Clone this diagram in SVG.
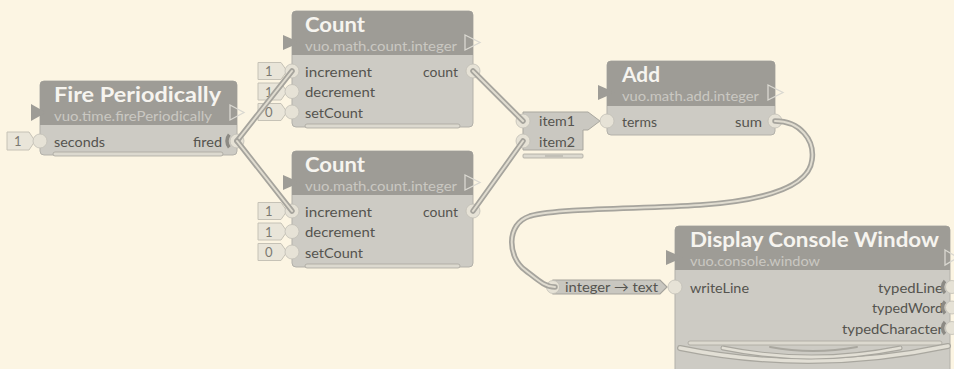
<svg xmlns="http://www.w3.org/2000/svg" width="954" height="369" viewBox="0 0 954 369">
<style>
.hdr{fill:#9e9c96}
.body{fill:#cdcbc4;stroke:#b3b1aa;stroke-width:1}
.title{font-family:"Lato","Noto Sans",sans-serif;font-weight:bold;font-size:20px;fill:#f6f4ef}
.sub{font-family:"Lato","Noto Sans",sans-serif;font-size:14px;fill:#cac8c2}
.lbl{font-family:"Lato","Noto Sans",sans-serif;font-size:14px;fill:#55544f}
.ctext{font-family:"Lato","Noto Sans",sans-serif;font-size:13px;fill:#7b7972}
.port{fill:#e6e2d6;stroke:#c2bfb6;stroke-width:0.8}
.const{fill:#e9e5d9;stroke:#c6c2b6;stroke-width:1}
.tin{fill:#9e9c96}
.tout{fill:none;stroke:#dad8d1;stroke-width:1.3}
.bar{fill:#dcd9cf;stroke:#a9a79f;stroke-width:0.8}
.trig{fill:none;stroke:#8c8a84;stroke-width:3.5}
.cab-o{fill:none;stroke:#a6a49d;stroke-width:5.5;stroke-linecap:round}
.cab-i{fill:none;stroke:#e0dcd0;stroke-width:2;stroke-linecap:round}
</style>
<rect width="954" height="369" fill="#fcf5e3"/>

<g id="firePeriodically">
<rect class="body" x="40" y="81" width="197" height="74" rx="4"/>
<path class="hdr" d="M40,125V85Q40,81 44,81H233Q237,81 237,85V125Z"/>
<polygon class="tin" points="31,104 46,112.5 31,121"/>
<polygon class="tout" points="230,105 244,112.5 230,120"/>
<text class="title" x="54" y="101.5" textLength="167" lengthAdjust="spacingAndGlyphs">Fire Periodically</text>
<text class="sub" x="54" y="120.5" textLength="158" lengthAdjust="spacingAndGlyphs">vuo.time.firePeriodically</text>
<rect class="bar" x="53" y="152" width="170" height="4" rx="2"/>
<path class="const" d="M7,132H29L35,141L29,150H7Z"/>
<text class="ctext" x="14" y="146">1</text>
<circle class="port" cx="40" cy="141" r="7"/>
<text class="lbl" x="54" y="146.5" textLength="51" lengthAdjust="spacingAndGlyphs">seconds</text>
<text class="lbl" x="193" y="146.5" textLength="29" lengthAdjust="spacingAndGlyphs">fired</text>
<circle class="port" cx="237" cy="141" r="7"/>
<path class="trig" d="M229.3,134.6A10,10 0 0 0 229.3,147.4"/>
</g>

<g id="count1">
<rect class="body" x="292" y="11" width="181" height="116" rx="4"/>
<path class="hdr" d="M292,55V15Q292,11 296,11H469Q473,11 473,15V55Z"/>
<polygon class="tin" points="283,35 300,42.5 283,50"/>
<polygon class="tout" points="465,35 480,42.5 465,50"/>
<text class="title" x="305" y="31.5" textLength="60" lengthAdjust="spacingAndGlyphs">Count</text>
<text class="sub" x="305" y="50.5" textLength="152" lengthAdjust="spacingAndGlyphs">vuo.math.count.integer</text>
<rect class="bar" x="305" y="124" width="155" height="4" rx="2"/>
<path class="const" d="M258,62.5H281L287,71L281,79.5H258Z"/>
<path class="const" d="M258,83H281L287,91.5L281,100H258Z"/>
<path class="const" d="M258,103.5H281L287,112L281,120.5H258Z"/>
<text class="ctext" x="265" y="76">1</text>
<text class="ctext" x="265" y="96.5">1</text>
<text class="ctext" x="265" y="117">0</text>
<circle class="port" cx="292" cy="71" r="7"/>
<circle class="port" cx="292" cy="91.5" r="7"/>
<circle class="port" cx="292" cy="112" r="7"/>
<text class="lbl" x="305" y="76.5" textLength="67" lengthAdjust="spacingAndGlyphs">increment</text>
<text class="lbl" x="305" y="97" textLength="70" lengthAdjust="spacingAndGlyphs">decrement</text>
<text class="lbl" x="305" y="117.5" textLength="58" lengthAdjust="spacingAndGlyphs">setCount</text>
<text class="lbl" x="423" y="76.5" textLength="35" lengthAdjust="spacingAndGlyphs">count</text>
<circle class="port" cx="473" cy="71" r="7"/>
</g>

<g id="count2">
<rect class="body" x="292" y="151" width="181" height="116" rx="4"/>
<path class="hdr" d="M292,195V155Q292,151 296,151H469Q473,151 473,155V195Z"/>
<polygon class="tin" points="283,175 300,182.5 283,190"/>
<polygon class="tout" points="465,175 480,182.5 465,190"/>
<text class="title" x="305" y="171.5" textLength="60" lengthAdjust="spacingAndGlyphs">Count</text>
<text class="sub" x="305" y="190.5" textLength="152" lengthAdjust="spacingAndGlyphs">vuo.math.count.integer</text>
<rect class="bar" x="305" y="264" width="155" height="4" rx="2"/>
<path class="const" d="M258,202.5H281L287,211L281,219.5H258Z"/>
<path class="const" d="M258,223H281L287,231.5L281,240H258Z"/>
<path class="const" d="M258,243.5H281L287,252L281,260.5H258Z"/>
<text class="ctext" x="265" y="216">1</text>
<text class="ctext" x="265" y="236.5">1</text>
<text class="ctext" x="265" y="257">0</text>
<circle class="port" cx="292" cy="211" r="7"/>
<circle class="port" cx="292" cy="231.5" r="7"/>
<circle class="port" cx="292" cy="252" r="7"/>
<text class="lbl" x="305" y="216.5" textLength="67" lengthAdjust="spacingAndGlyphs">increment</text>
<text class="lbl" x="305" y="237" textLength="70" lengthAdjust="spacingAndGlyphs">decrement</text>
<text class="lbl" x="305" y="257.5" textLength="58" lengthAdjust="spacingAndGlyphs">setCount</text>
<text class="lbl" x="423" y="216.5" textLength="35" lengthAdjust="spacingAndGlyphs">count</text>
<circle class="port" cx="473" cy="211" r="7"/>
</g>

<g id="itemList">
<path d="M523,112H588L600,121L588,130H583V150H523Z" fill="#cac8c1" stroke="#a9a79f" stroke-width="1"/>
<rect class="bar" x="523" y="154" width="60" height="4" rx="1"/>
<line x1="545" y1="156" x2="563" y2="156" stroke="#a9a79f" stroke-width="1"/>
<circle class="port" cx="523" cy="121" r="7"/>
<circle class="port" cx="523" cy="141" r="7"/>
<text class="lbl" x="539" y="126" textLength="36" lengthAdjust="spacingAndGlyphs">item1</text>
<text class="lbl" x="539" y="146.5" textLength="36" lengthAdjust="spacingAndGlyphs">item2</text>
</g>

<g id="add">
<rect class="body" x="607" y="61" width="168" height="74" rx="4"/>
<path class="hdr" d="M607,106V65Q607,61 611,61H771Q775,61 775,65V106Z"/>
<polygon class="tin" points="598,85 615,92.5 598,100"/>
<polygon class="tout" points="768,85 783,92.5 768,100"/>
<text class="title" x="622" y="81.5" textLength="38" lengthAdjust="spacingAndGlyphs">Add</text>
<text class="sub" x="622" y="100.5" textLength="137" lengthAdjust="spacingAndGlyphs">vuo.math.add.integer</text>
<circle class="port" cx="607" cy="121" r="7"/>
<text class="lbl" x="622" y="126.5" textLength="35" lengthAdjust="spacingAndGlyphs">terms</text>
<text class="lbl" x="735" y="126.5" textLength="27" lengthAdjust="spacingAndGlyphs">sum</text>
<circle class="port" cx="775" cy="121" r="7"/>
</g>

<g id="converter">
<path d="M553,280H660L667,287L660,294H553Z" fill="#c9c7c0" stroke="#a5a39c" stroke-width="1.2"/>
<circle class="port" cx="553" cy="287" r="6.5"/>
<text class="lbl" x="565" y="292" textLength="93" lengthAdjust="spacingAndGlyphs">integer → text</text>
</g>

<g id="displayConsoleWindow">
<rect class="body" x="675" y="226" width="275" height="160" rx="4"/>
<path class="hdr" d="M675,270V230Q675,226 679,226H946Q950,226 950,230V270Z"/>
<polygon class="tin" points="666,250 683,257.5 666,265"/>
<polygon class="tout" points="945,250 958,257.5 945,265"/>
<text class="title" x="690" y="246.5" textLength="249" lengthAdjust="spacingAndGlyphs">Display Console Window</text>
<text class="sub" x="690" y="265.5" textLength="130" lengthAdjust="spacingAndGlyphs">vuo.console.window</text>
<circle class="port" cx="675" cy="287" r="7"/>
<text class="lbl" x="690" y="292.5" textLength="59" lengthAdjust="spacingAndGlyphs">writeLine</text>
<text class="lbl" x="878" y="292.5" textLength="65" lengthAdjust="spacingAndGlyphs">typedLine</text>
<text class="lbl" x="872" y="313" textLength="71" lengthAdjust="spacingAndGlyphs">typedWord</text>
<text class="lbl" x="842" y="333.5" textLength="101" lengthAdjust="spacingAndGlyphs">typedCharacter</text>
<circle class="port" cx="952" cy="287" r="6.5"/>
<circle class="port" cx="952" cy="307.5" r="6.5"/>
<circle class="port" cx="952" cy="328" r="6.5"/>
<path class="trig" d="M945,281A8.5,8.5 0 0 0 945,293"/>
<path class="trig" d="M945,301.5A8.5,8.5 0 0 0 945,313.5"/>
<path class="trig" d="M945,322A8.5,8.5 0 0 0 945,334"/>
<rect class="bar" x="688" y="341" width="254" height="4" rx="2"/>
<path d="M680,348Q812,375 948,346" fill="none" stroke="#a9a79f" stroke-width="6" stroke-linecap="round"/>
<path d="M680,348Q812,375 948,346" fill="none" stroke="#e2dfd5" stroke-width="3.5" stroke-linecap="round"/>
<path d="M723,348Q811,366 900,348" fill="none" stroke="#a9a79f" stroke-width="5" stroke-linecap="round"/>
<path d="M723,348Q811,366 900,348" fill="none" stroke="#e2dfd5" stroke-width="2.8" stroke-linecap="round"/>
<path d="M770,347Q813,355 857,347" fill="none" stroke="#a9a79f" stroke-width="2" stroke-linecap="round"/>
</g>

<g id="connectors">
<path class="cab-o" d="M237,141L292,71"/>
<path class="cab-i" d="M237,141L292,71"/>
<path class="cab-o" d="M237,141L292,211"/>
<path class="cab-i" d="M237,141L292,211"/>
<path class="cab-o" d="M473,71L523,121"/>
<path class="cab-i" d="M473,71L523,121"/>
<path class="cab-o" d="M473,211L523,141"/>
<path class="cab-i" d="M473,211L523,141"/>
<path class="cab-o" d="M775,121C800,121 815,140 812,160C809,185 770,200 700,205C640,209 560,208 530,216C505,224 508,258 525,270C538,280 545,287 555,287"/>
<path class="cab-i" d="M775,121C800,121 815,140 812,160C809,185 770,200 700,205C640,209 560,208 530,216C505,224 508,258 525,270C538,280 545,287 555,287"/>
</g>
</svg>
